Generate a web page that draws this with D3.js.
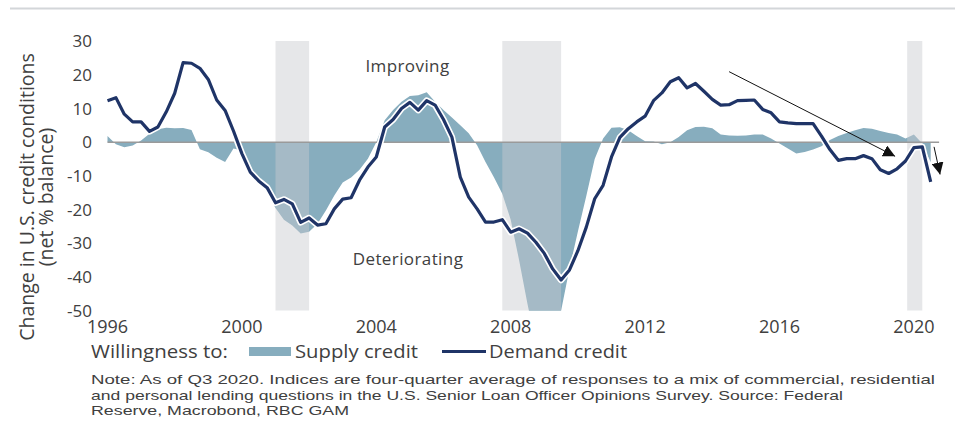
<!DOCTYPE html>
<html>
<head>
<meta charset="utf-8">
<script src="https://cdn.jsdelivr.net/npm/d3@7"></script>
<style>
  html, body { margin: 0; padding: 0; background: #fff; }
  svg { display: block; }
  text { font-family: "Open Sans", "DejaVu Sans", sans-serif; fill: #404040; }
  text.note { font-family: "Liberation Sans Narrow", "Liberation Sans", sans-serif; }
</style>
</head>
<body>
<svg id="chart" width="959" height="421"></svg>
<script>
// ---- data ----
const startYear = 1996;               // first quarter: 1996 Q1
const supplyCredit = [
  1.8, -0.6, -1.5, -1.0,
  0.5, 2.5, 3.8, 4.3,
  4.1, 4.2, 3.6, -2.1,
  -3.0, -4.6, -5.9, -1.9,
  -2.5, -7.4, -10.8, -15.0,
  -19.5, -23.0, -24.7, -27.1,
  -26.6, -24.2, -20.3, -15.8,
  -12.0, -10.5, -8.2, -4.9,
  0.0, 6.5, 9.5, 12.0,
  13.7, 13.9, 14.8, 12.0,
  9.5, 7.3, 5.0, 2.6,
  -0.9, -5.9, -10.4, -15.3,
  -23.0, -35.0, -48.0, -60.0,
  -66.0, -66.0, -50.0, -37.5,
  -26.5, -16.0, -5.0, 1.1,
  4.3, 4.4, 3.5, 1.8,
  0.3, 0.2, -0.6, 0.0,
  1.5, 3.5, 4.5, 4.6,
  4.1, 2.3, 2.0, 1.9,
  2.0, 2.3, 2.3, 1.1,
  -0.4, -1.9, -3.4, -2.9,
  -2.2, -1.2, 0.6, 1.8,
  2.7, 3.5, 4.2, 4.0,
  3.3, 2.7, 2.3, 1.1,
  2.3, -0.4, -6.0
];
const demandCredit = [
  12.3, 13.2, 8.3, 6.0,
  6.0, 3.2, 4.5, 9.0,
  14.5, 23.6, 23.4, 21.9,
  18.6, 12.5, 9.4, 3.3,
  -3.4, -8.9, -11.5, -13.5,
  -18.0, -17.0, -18.3, -23.8,
  -22.5, -24.6, -24.2, -19.8,
  -16.9, -16.5, -11.3, -7.4,
  -4.4, 4.5, 6.7, 10.0,
  11.8, 9.5, 12.3, 11.0,
  6.7, 1.5, -10.4, -16.3,
  -19.8, -23.7, -23.7, -23.0,
  -26.7, -25.7, -27.0, -29.7,
  -33.0, -37.6, -40.9, -37.9,
  -32.2, -25.2, -16.8, -12.8,
  -4.4, 1.4, 4.0, 6.0,
  7.7, 12.3, 14.6, 17.9,
  19.1, 16.1, 17.4, 15.1,
  12.7, 11.0, 11.1, 12.3,
  12.4, 12.5, 9.7, 8.7,
  6.0, 5.7, 5.5, 5.5,
  5.5, 1.8, -2.2, -5.4,
  -4.9, -4.9, -4.0, -4.9,
  -8.2, -9.3, -7.9, -5.6,
  -1.6, -1.4, -11.8
];
const recessions = [[2001.0, 2002.0], [2007.75, 2009.5], [2019.8, 2020.25]];
const xTicks = [1996, 2000, 2004, 2008, 2012, 2016, 2020];
const yTicks = [30, 20, 10, 0, -10, -20, -30, -40, -50];
const yTitle = ["Change in U.S. credit conditions", "(net % balance)"];
const legendLabels = ["Willingness to:", "Supply credit", "Demand credit"];
const annotations = ["Improving", "Deteriorating"];
const noteLines = [
  "Note: As of Q3 2020. Indices are four-quarter average of responses to a mix of commercial, residential",
  "and personal lending questions in the U.S. Senior Loan Officer Opinions Survey. Source: Federal",
  "Reserve, Macrobond, RBC GAM"
];

const dates = supplyCredit.map((_, i) => startYear + i * 0.25);

// ---- layout ----
const svg = d3.select("#chart");
const x = d3.scaleLinear().domain([1996, 2021]).range([107.5, 947.5]);
const y = d3.scaleLinear().domain([-50, 30]).range([310.7, 41]);

// top rule
svg.append("line").attr("x1", 10).attr("x2", 955).attr("y1", 8.5).attr("y2", 8.5)
  .attr("stroke", "#d3d6d9").attr("stroke-width", 2);

// clip
svg.append("clipPath").attr("id", "plotclip").append("rect")
  .attr("x", x(1996) - 2).attr("y", y(30)).attr("width", x(2021) - x(1996) + 4).attr("height", y(-50) - y(30));

const plot = svg.append("g").attr("clip-path", "url(#plotclip)");

// supply area
const area = d3.area()
  .x((d, i) => x(dates[i]))
  .y0(y(0))
  .y1(d => y(d));
plot.append("path").datum(supplyCredit)
  .attr("d", area)
  .attr("fill", "#87adbe");

// recession bars (translucent)
plot.selectAll("rect.rec").data(recessions).join("rect")
  .attr("class", "rec")
  .attr("x", d => x(d[0]))
  .attr("width", d => x(d[1]) - x(d[0]))
  .attr("y", y(30))
  .attr("height", y(-50) - y(30))
  .attr("fill", "#c8cbcf")
  .attr("fill-opacity", 0.46);

// zero line
svg.append("line")
  .attr("x1", x(1996)).attr("x2", x(2020.75))
  .attr("y1", y(0)).attr("y2", y(0))
  .attr("stroke", "#9a9a9a").attr("stroke-width", 1.5);

// demand line with white halo
const line = d3.line()
  .x((d, i) => x(dates[i]))
  .y(d => y(d));
svg.append("path").datum(demandCredit)
  .attr("d", line).attr("fill", "none")
  .attr("stroke", "#fff").attr("stroke-width", 6.5).attr("stroke-linejoin", "round");
svg.append("path").datum(demandCredit)
  .attr("d", line).attr("fill", "none")
  .attr("stroke", "#1f3467").attr("stroke-width", 3.2).attr("stroke-linejoin", "round");

// arrows
const defs = svg.append("defs");
defs.append("marker").attr("id", "arrowhead")
  .attr("viewBox", "0 0 10 10").attr("refX", 10).attr("refY", 5)
  .attr("markerWidth", 12).attr("markerHeight", 12)
  .attr("markerUnits", "userSpaceOnUse")
  .attr("orient", "auto")
  .append("path").attr("d", "M0,0 L10,5 L0,10 Z").attr("fill", "#111");

svg.append("line")
  .attr("x1", x(2014.5)).attr("y1", y(20.9))
  .attr("x2", x(2019.44)).attr("y2", y(-4.2))
  .attr("stroke", "#111").attr("stroke-width", 1)
  .attr("marker-end", "url(#arrowhead)");
svg.append("line")
  .attr("x1", x(2020.6)).attr("y1", y(-1.4))
  .attr("x2", x(2020.78)).attr("y2", y(-9.6))
  .attr("stroke", "#111").attr("stroke-width", 1)
  .attr("marker-end", "url(#arrowhead)");

// annotations
svg.append("text").attr("x", 407.5).attr("y", 71.5).attr("text-anchor", "middle")
  .style("font-size", "17px").style("letter-spacing", "0.4px").text(annotations[0]);
svg.append("text").attr("x", 408).attr("y", 264.5).attr("text-anchor", "middle")
  .style("font-size", "17px").style("letter-spacing", "0.4px").text(annotations[1]);

// y axis labels
svg.append("g").selectAll("text").data(yTicks).join("text")
  .attr("x", 92).attr("y", d => y(d)).attr("dy", "0.36em")
  .attr("text-anchor", "end")
  .style("font-size", "17px")
  .text(d => d);

// x axis labels
svg.append("g").selectAll("text").data(xTicks).join("text")
  .attr("x", d => x(d)).attr("y", 333)
  .attr("text-anchor", "middle")
  .style("font-size", "18px")
  .text(d => d);

// y title
const yt = svg.append("g").attr("transform", "translate(0,197)");
yt.append("text").attr("transform", "translate(34,0) rotate(-90)")
  .attr("text-anchor", "middle").style("font-size", "19.5px").text(yTitle[0]);
yt.append("text").attr("transform", "translate(53,0) rotate(-90)")
  .attr("text-anchor", "middle").style("font-size", "19.5px").text(yTitle[1]);

// legend
const lg = svg.append("g");
lg.append("text").attr("x", 91).attr("y", 358).style("font-size", "19px")
  .attr("textLength", 137).attr("lengthAdjust", "spacingAndGlyphs").text(legendLabels[0]);
lg.append("rect").attr("x", 249).attr("y", 347).attr("width", 42).attr("height", 9).attr("fill", "#87adbe");
lg.append("text").attr("x", 295).attr("y", 358).style("font-size", "19px")
  .attr("textLength", 123).attr("lengthAdjust", "spacingAndGlyphs").text(legendLabels[1]);
lg.append("line").attr("x1", 442).attr("x2", 486).attr("y1", 351.5).attr("y2", 351.5)
  .attr("stroke", "#1f3467").attr("stroke-width", 3);
lg.append("text").attr("x", 489).attr("y", 358).style("font-size", "19px")
  .attr("textLength", 138).attr("lengthAdjust", "spacingAndGlyphs").text(legendLabels[2]);

// note
const noteWidths = [844, 752, 258];
svg.append("g").selectAll("text").data(noteLines).join("text")
  .attr("class", "note")
  .attr("x", 91).attr("y", (d, i) => 384 + i * 15.5)
  .style("font-size", "13.3px")
  .attr("textLength", (d, i) => noteWidths[i]).attr("lengthAdjust", "spacingAndGlyphs")
  .text(d => d);
</script>
</body>
</html>
